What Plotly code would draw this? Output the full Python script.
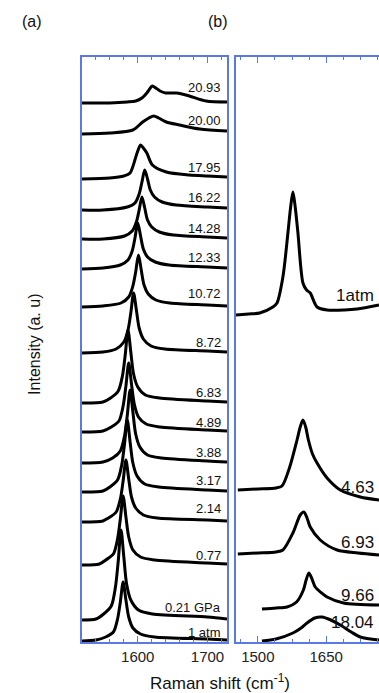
import plotly.graph_objects as go

# ---------------- Panel (a): Raman spectra at pressures ----------------
a_labels = ["20.93", "20.00", "17.95", "16.22", "14.28", "12.33", "10.72", "8.72",
            "6.83", "4.89", "3.88", "3.17", "2.14", "0.77", "0.21 GPa", "1 atm"]
a_label_y = [555, 522, 475, 445, 414, 385, 349, 300, 250, 220, 190, 162, 134, 87, 35, 10]

a_x = [
    [1520, 1560, 1585, 1597, 1606, 1613, 1618, 1621, 1626, 1632, 1640, 1656, 1674, 1698, 1728],
    [1520, 1560, 1593, 1607, 1616, 1623, 1630, 1641, 1660, 1689, 1728],
    [1520, 1560, 1580, 1589, 1599, 1604, 1608, 1613, 1621, 1641, 1674, 1700, 1728],
    [1520, 1550, 1585, 1596, 1602, 1606, 1610, 1614, 1618, 1624, 1635, 1655, 1700, 1728],
    [1520, 1550, 1581, 1592, 1598, 1602, 1606, 1610, 1614, 1620, 1631, 1651, 1700, 1728],
    [1520, 1550, 1575, 1586, 1592, 1596, 1600, 1604, 1608, 1614, 1625, 1645, 1700, 1728],
    [1520, 1550, 1576, 1587, 1593, 1597, 1601, 1605, 1609, 1615, 1626, 1646, 1700, 1728],
    [1520, 1550, 1569, 1580, 1586, 1590, 1594, 1598, 1602, 1608, 1619, 1639, 1700, 1728],
    [1520, 1550, 1561, 1572, 1578, 1582, 1586, 1590, 1594, 1600, 1611, 1631, 1700, 1728],
    [1520, 1550, 1562, 1573, 1579, 1583, 1587, 1591, 1595, 1601, 1612, 1632, 1700, 1728],
    [1520, 1550, 1564, 1575, 1581, 1585, 1589, 1593, 1597, 1603, 1614, 1634, 1700, 1728],
    [1520, 1550, 1560, 1571, 1577, 1581, 1585, 1589, 1593, 1599, 1610, 1630, 1700, 1728],
    [1520, 1550, 1558, 1569, 1575, 1579, 1583, 1587, 1591, 1597, 1608, 1628, 1700, 1728],
    [1520, 1545, 1554, 1565, 1571, 1575, 1579, 1583, 1587, 1593, 1604, 1624, 1700, 1728],
    [1520, 1540, 1551, 1562, 1568, 1572, 1576, 1580, 1584, 1590, 1601, 1621, 1700, 1728],
    [1520, 1540, 1554, 1565, 1571, 1575, 1579, 1583, 1587, 1593, 1604, 1624, 1700, 1728],
]
a_y = [
    [539, 539, 540, 541, 544, 549, 554, 556, 554, 551, 549, 549, 546, 541, 540],
    [508, 509, 512, 520, 524, 526, 524, 520, 517, 513, 511],
    [463, 464, 466, 469, 489, 497, 494, 489, 477, 470, 467, 466, 465],
    [432, 432, 435, 439, 448, 460, 472, 463, 452, 445, 440, 437, 435, 434],
    [403, 403, 406, 411, 420, 432, 445, 434, 422, 415, 410, 407, 405, 404],
    [373, 374, 377, 382, 391, 404, 419, 406, 393, 385, 380, 377, 375, 374],
    [335, 336, 339, 345, 356, 370, 387, 372, 357, 348, 342, 339, 337, 336],
    [289, 290, 293, 300, 312, 329, 349, 332, 314, 303, 296, 293, 291, 290],
    [239, 240, 244, 251, 266, 287, 312, 290, 268, 255, 247, 244, 241, 240],
    [210, 211, 215, 221, 236, 256, 279, 258, 238, 225, 218, 215, 212, 211],
    [179, 180, 184, 191, 206, 227, 252, 230, 208, 195, 187, 184, 181, 180],
    [150, 151, 155, 162, 177, 198, 222, 200, 179, 166, 158, 155, 152, 151],
    [120, 121, 124, 130, 143, 161, 182, 163, 145, 134, 127, 124, 122, 121],
    [77, 78, 82, 88, 103, 123, 146, 125, 105, 92, 85, 82, 79, 78],
    [22, 23, 28, 36, 55, 81, 112, 85, 58, 42, 32, 28, 25, 23],
    [1, 2, 5, 10, 23, 40, 60, 42, 25, 14, 8, 5, 3, 2],
]

# ---------------- Panel (b) ----------------
b_labels = ["1atm", "4.63", "6.93", "9.66", "18.04"]
b_label_y = [347, 155, 100, 47, 20]
b_x = [
    [1452, 1480, 1504, 1533, 1542, 1555, 1566, 1572, 1577, 1582, 1588, 1599, 1607, 1615, 1630, 1652, 1690, 1718, 1766],
    [1456, 1500, 1540, 1553, 1570, 1586, 1593, 1599, 1605, 1611, 1620, 1630, 1652, 1681, 1725, 1766],
    [1456, 1500, 1540, 1555, 1577, 1593, 1601, 1608, 1615, 1637, 1674, 1720, 1766],
    [1509, 1540, 1564, 1585, 1600, 1606, 1612, 1618, 1626, 1640, 1652, 1688, 1766],
    [1509, 1540, 1577, 1595, 1608, 1625, 1641, 1660, 1681, 1705, 1725, 1766],
]
b_y = [
    [327, 328, 329, 335, 339, 365, 409, 435, 450, 435, 409, 359, 352, 349, 335, 332, 332, 333, 337],
    [152, 153, 154, 156, 175, 202, 215, 222, 215, 202, 188, 179, 164, 152, 145, 142],
    [88, 89, 90, 92, 109, 127, 130, 124, 115, 102, 92, 89, 87],
    [33, 34, 35, 40, 52, 62, 69, 64, 55, 49, 45, 39, 37],
    [1, 3, 9, 14, 19, 24, 25, 22, 17, 10, 5, 2],
]

BLUE = "#5a78e6"
FONT = "Liberation Sans, Arial, Helvetica, sans-serif"

fig = go.Figure()
for xs, ys in zip(a_x, a_y):
    fig.add_trace(go.Scatter(x=xs, y=ys, mode="lines", xaxis="x", yaxis="y",
                             line=dict(color="black", width=3, shape="spline", smoothing=0.8),
                             showlegend=False, hoverinfo="skip"))
for xs, ys in zip(b_x, b_y):
    fig.add_trace(go.Scatter(x=xs, y=ys, mode="lines", xaxis="x2", yaxis="y2",
                             line=dict(color="black", width=3, shape="spline", smoothing=0.8),
                             showlegend=False, hoverinfo="skip"))

annotations = []
for t, yv in zip(a_labels, a_label_y):
    annotations.append(dict(x=1722, y=yv, xref="x", yref="y", text=t, showarrow=False,
                            xanchor="right", yanchor="middle",
                            font=dict(family=FONT, size=13, color="#111")))
for t, yv in zip(b_labels, b_label_y):
    annotations.append(dict(x=1760, y=yv, xref="x2", yref="y2", text=t, showarrow=False,
                            xanchor="right", yanchor="middle",
                            font=dict(family=FONT, size=17, color="#111")))

annotations += [
    dict(x=-0.168, y=1.06, xref="paper", yref="paper", text="(a)", showarrow=False,
         xanchor="center", yanchor="middle", font=dict(family=FONT, size=16, color="#111")),
    dict(x=0.458, y=1.06, xref="paper", yref="paper", text="(b)", showarrow=False,
         xanchor="center", yanchor="middle", font=dict(family=FONT, size=16, color="#111")),
    dict(x=-0.158, y=0.508, xref="paper", yref="paper", text="Intensity (a. u)", showarrow=False,
         xanchor="center", yanchor="middle",
         textangle=-90, font=dict(family=FONT, size=16, color="#111")),
    dict(x=0.465, y=-0.068, xref="paper", yref="paper", text="Raman shift (cm<sup>-1</sup>)",
         xanchor="center", yanchor="middle",
         showarrow=False, font=dict(family=FONT, size=17, color="#111")),
]

xcommon = dict(showline=True, linecolor=BLUE, linewidth=1.5, mirror="ticks",
               ticks="inside", ticklen=6, tickwidth=1.2, tickcolor=BLUE,
               showgrid=False, zeroline=False, fixedrange=True,
               tickfont=dict(family=FONT, size=15, color="#222"))

fig.update_layout(
    width=379, height=693,
    margin=dict(l=82, r=0, t=57, b=51),
    paper_bgcolor="white", plot_bgcolor="white",
    showlegend=False,
    xaxis=dict(domain=[0, 0.4882], range=[1520, 1728], anchor="y",
               tickvals=[1600, 1700],
               minor=dict(tickvals=[1540, 1560, 1580, 1620, 1640, 1660, 1680, 1720],
                          ticks="inside", ticklen=3, tickcolor=BLUE, tickwidth=1),
               **xcommon),
    xaxis2=dict(domain=[0.5185, 1], range=[1452, 1766], anchor="y2",
                tickvals=[1500, 1650],
                minor=dict(tickvals=[1462.5, 1537.5, 1575, 1612.5, 1687.5, 1725, 1762.5],
                           ticks="inside", ticklen=3, tickcolor=BLUE, tickwidth=1),
                **xcommon),
    yaxis=dict(range=[0, 585], anchor="x", showline=True, mirror=True, linecolor=BLUE,
               linewidth=1.5, showticklabels=False, ticks="", showgrid=False,
               zeroline=False, fixedrange=True),
    yaxis2=dict(range=[0, 585], anchor="x2", showline=True, mirror=False, linecolor=BLUE,
                linewidth=1.5, showticklabels=False, ticks="", showgrid=False,
                zeroline=False, fixedrange=True),
    annotations=annotations,
)

fig.write_html("out.html", config={"displayModeBar": False},
               post_script="document.body.style.margin='0';document.body.style.padding='0';")
